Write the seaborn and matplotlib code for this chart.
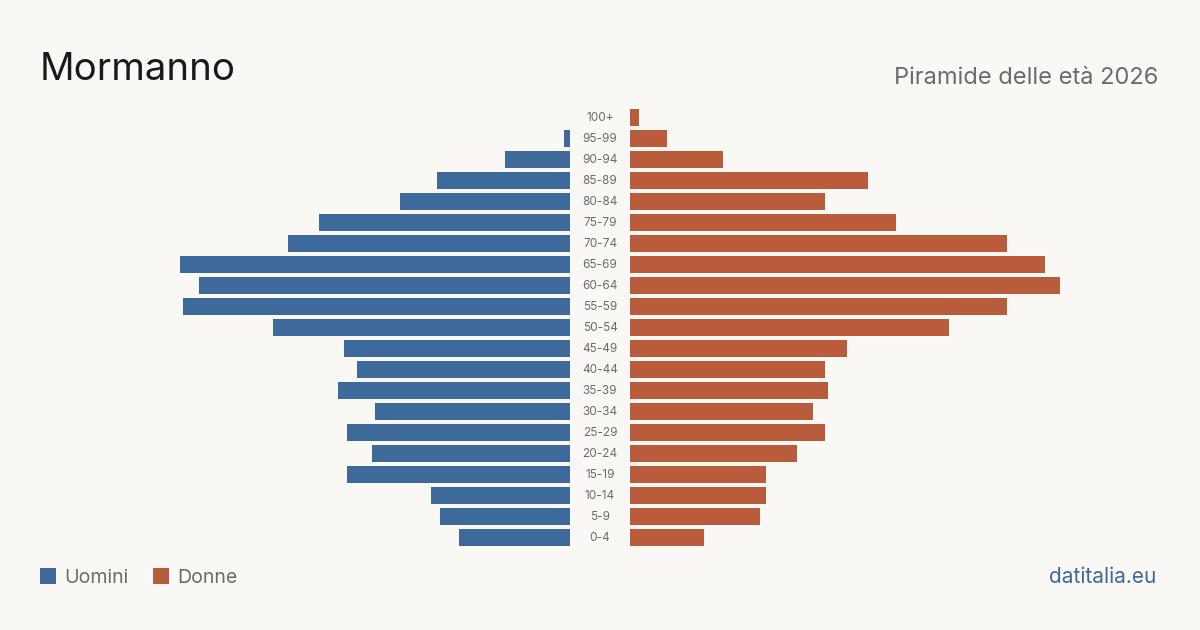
import pandas as pd
import matplotlib.pyplot as plt
import matplotlib.transforms as mtransforms
from matplotlib.patches import Rectangle
import seaborn as sns

# dati (stimati dal grafico)
fasce = ["100+", "95-99", "90-94", "85-89", "80-84", "75-79", "70-74", "65-69",
         "60-64", "55-59", "50-54", "45-49", "40-44", "35-39", "30-34", "25-29",
         "20-24", "15-19", "10-14", "5-9", "0-4"]
uomini = [0, 2, 21, 43, 55, 81, 91, 126, 120, 125, 96, 73, 69, 75, 63, 72, 64, 72, 45, 42, 36]
donne = [3, 12, 30, 77, 63, 86, 122, 134, 139, 122, 103, 70, 63, 64, 59, 63, 54, 44, 44, 42, 24]

BG = "#f9f8f4"
BLU = "#3d6a9a"
ARANCIO = "#b95c3c"
GRIGIO = "#6b6b6b"

sns.set_theme(style="white")
plt.rcParams["font.family"] = ["Inter", "DejaVu Sans"]

df = pd.DataFrame({"fascia": fasce, "Uomini": uomini, "Donne": donne})
vmax = max(max(uomini), max(donne))

fig = plt.figure(figsize=(12, 6.3), dpi=100, facecolor=BG)
ax_l = fig.add_axes([140 / 1200, 0.1295, 430 / 1200, 0.70])
ax_r = fig.add_axes([630 / 1200, 0.1295, 430 / 1200, 0.70])

sns.barplot(data=df, x="Uomini", y="fascia", orient="h", color=BLU,
            width=0.81, saturation=1, linewidth=0, ax=ax_l)
sns.barplot(data=df, x="Donne", y="fascia", orient="h", color=ARANCIO,
            width=0.81, saturation=1, linewidth=0, ax=ax_r)

ax_l.set_xlim(vmax, 0)
ax_r.set_xlim(0, vmax)
for ax in (ax_l, ax_r):
    ax.set_facecolor(BG)
    ax.set_ylim(len(fasce) - 0.5, -0.5)
    ax.set_xlabel("")
    ax.set_ylabel("")
    ax.set_xticks([])
    ax.set_yticks([])
    sns.despine(ax=ax, left=True, bottom=True)

# etichette delle fasce al centro
trans = mtransforms.blended_transform_factory(fig.transFigure, ax_l.transData)
for i, f in enumerate(fasce):
    ax_l.text(0.5, i, f, transform=trans, ha="center", va="center",
              fontsize=8.5, color=GRIGIO, clip_on=False)

# titoli
fig.text(40 / 1200, 1 - 80 / 630, "Mormanno", fontsize=27.6, color="#1a1a1a",
         ha="left", va="baseline")
fig.text(1158 / 1200, 1 - 84 / 630, "Piramide delle età 2026", fontsize=17,
         color=GRIGIO, ha="right", va="baseline")

# legenda
for x0, col, lab in [(40, BLU, "Uomini"), (153, ARANCIO, "Donne")]:
    fig.add_artist(Rectangle((x0 / 1200, 1 - 584 / 630), 16 / 1200, 16 / 630,
                             transform=fig.transFigure, color=col, lw=0))
    fig.text((x0 + 24) / 1200, 1 - 583 / 630, lab, fontsize=14.1, color=GRIGIO,
             ha="left", va="baseline")

fig.text(1156 / 1200, 1 - 583 / 630, "datitalia.eu", fontsize=15, color=BLU,
         ha="right", va="baseline")

fig.savefig("out.png", dpi=100, facecolor=BG)
